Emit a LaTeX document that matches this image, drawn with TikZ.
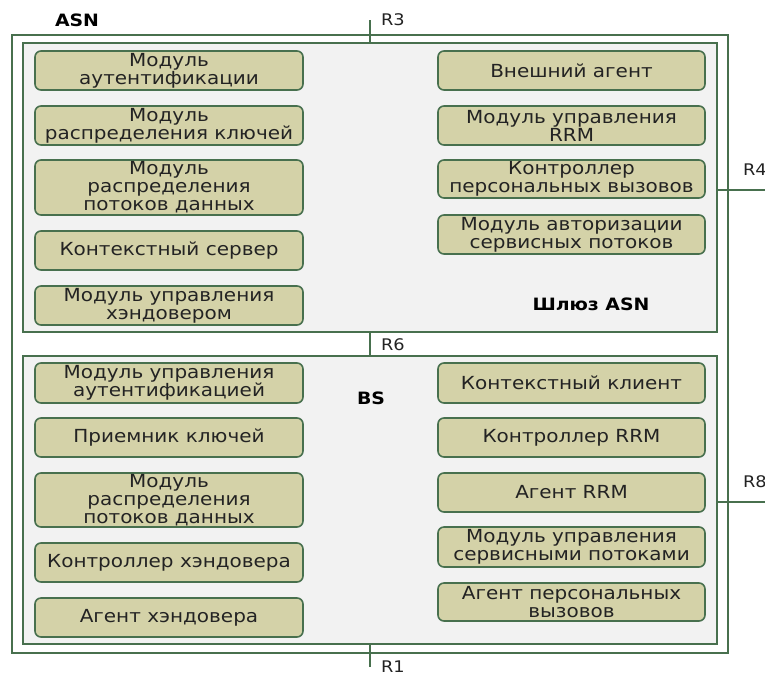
\documentclass[tikz,border=0pt]{standalone}
\usepackage{fontspec}
\setmainfont{DejaVu Sans}
\newfontfamily\boxfont[FakeStretch=1.11]{DejaVu Sans}
\begin{document}
\begin{tikzpicture}[x=1pt,y=-1pt,
  every node/.style={inner sep=0pt, outer sep=0pt},
  modbox/.style={draw=grn, line width=1.6pt, fill=khaki, rounded corners=6pt, align=center,
     font=\boxfont\fontsize{18}{18}\selectfont, text=txt},
  lmod/.style={modbox, minimum width=268pt},
  rmod/.style={modbox, minimum width=267pt},
  frame/.style={draw=grn, line width=1.8pt},
  conn/.style={draw=grn, line width=1.8pt},
  rlab/.style={anchor=west, font=\boxfont\fontsize{16}{16}\selectfont, text=txt},
  blab/.style={font=\boxfont\bfseries\fontsize{17}{18}\selectfont, text=black}]
\definecolor{grn}{RGB}{72,112,78}
\definecolor{khaki}{RGB}{212,210,168}
\definecolor{gryfill}{RGB}{242,242,242}
\definecolor{txt}{RGB}{35,35,35}
\useasboundingbox (0,0) rectangle (765,673);
\fill[white] (0,0) rectangle (765,673);
% frames
\node[frame, fill=white, minimum width=716pt, minimum height=618pt] (asn) at (370,344) {};
\node[frame, fill=gryfill, minimum width=694pt, minimum height=289pt] (gw) at (370,187.5) {};
\node[frame, fill=gryfill, minimum width=694pt, minimum height=288pt] (bs) at (370,500) {};
% labels
\node[blab] (asnl) at (77,20) {ASN};
\node[blab] (gwl) at (591,304) {Шлюз ASN};
\node[blab] (bsl) at (371,398) {BS};
\node[rlab] (r3l) at (381,20) {R3};
\node[rlab] (r6l) at (381,345) {R6};
\node[rlab] (r1l) at (381,667) {R1};
\node[rlab] (r4l) at (743,170) {R4};
\node[rlab] (r8l) at (743,482) {R8};
% connectors
\coordinate (r3top) at (370,20);
\coordinate (r1bot) at (370,667);
\coordinate (r4end) at (766,190);
\coordinate (r8end) at (766,502);
\draw[conn] (r3top) -- (r3top |- gw.north);
\draw[conn] (gw.south -| r3top) -- (bs.north -| r3top);
\draw[conn] (bs.south -| r1bot) -- (r1bot);
\draw[conn] (gw.east |- r4end) -- (r4end);
\draw[conn] (bs.east |- r8end) -- (r8end);
% gateway left
\node[lmod, minimum height=39pt] (g1) at (169,70.5) {Модуль\\аутентификации};
\node[lmod, minimum height=39pt] (g2) at (169,125.5) {Модуль\\распределения ключей};
\node[lmod, minimum height=55pt] (g3) at (169,187.5) {Модуль\\распределения\\потоков данных};
\node[lmod, minimum height=39pt] (g4) at (169,250.5) {Контекстный сервер};
\node[lmod, minimum height=39pt] (g5) at (169,305.5) {Модуль управления\\хэндовером};
% gateway right
\node[rmod, minimum height=39pt] (g6) at (571.5,70.5) {Внешний агент};
\node[rmod, minimum height=39pt] (g7) at (571.5,125.5) {Модуль управления\\RRM};
\node[rmod, minimum height=38pt] (g8) at (571.5,179) {Контроллер\\персональных вызовов};
\node[rmod, minimum height=39pt] (g9) at (571.5,234.5) {Модуль авторизации\\сервисных потоков};
% bs left
\node[lmod, minimum height=40pt] (b1) at (169,383) {Модуль управления\\аутентификацией};
\node[lmod, minimum height=39pt] (b2) at (169,437.5) {Приемник ключей};
\node[lmod, minimum height=54pt] (b3) at (169,500) {Модуль\\распределения\\потоков данных};
\node[lmod, minimum height=39pt] (b4) at (169,562.5) {Контроллер хэндовера};
\node[lmod, minimum height=39pt] (b5) at (169,617.5) {Агент хэндовера};
% bs right
\node[rmod, minimum height=40pt] (b6) at (571.5,383) {Контекстный клиент};
\node[rmod, minimum height=39pt] (b7) at (571.5,437.5) {Контроллер RRM};
\node[rmod, minimum height=39pt] (b8) at (571.5,492.5) {Агент RRM};
\node[rmod, minimum height=40pt] (b9) at (571.5,547) {Модуль управления\\сервисными потоками};
\node[rmod, minimum height=38pt] (b10) at (571.5,602) {Агент персональных\\вызовов};
\end{tikzpicture}
\end{document}
